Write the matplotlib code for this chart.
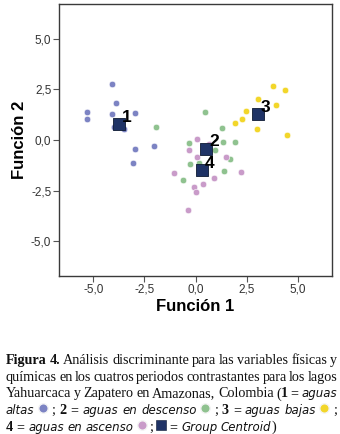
import matplotlib
matplotlib.use("Agg")
import matplotlib.pyplot as plt

# discriminant scores (Función 1, Función 2)
altas_x = [-4.09, -3.88, -5.29, -5.29, -4.09, -2.97, -3.98, -3.48, -2.97, -3.04, -2.04]
altas_y = [2.74, 1.83, 1.36, 1.02, 1.26, 1.31, 0.65, 0.54, -0.46, -1.12, -0.31]

descenso_x = [0.44, -1.93, 1.29, 1.34, 1.91, -0.33, 0.95, 1.68, -0.29, 0.16, 1.37, -0.64]
descenso_y = [1.36, 0.62, 0.57, -0.09, -0.11, -0.14, -0.48, -0.92, -1.19, -1.14, -1.52, -1.99]

bajas_x = [3.77, 4.36, 3.03, 3.92, 2.43, 2.24, 1.91, 2.99, 4.47]
bajas_y = [2.65, 2.47, 2.03, 1.73, 1.41, 1.05, 0.82, 0.54, 0.25]

ascenso_x = [0.04, -0.32, 0.63, 0.04, 1.46, 2.21, -1.07, 0.88, 0.35, -0.10, 0.01, -0.38]
ascenso_y = [0.04, -0.48, -0.20, -0.85, -0.82, -1.57, -1.62, -1.89, -2.15, -2.33, -2.55, -3.47]

centroid_x = [-3.72, 0.51, 3.05, 0.31]
centroid_y = [0.79, -0.42, 1.30, -1.50]
centroid_labels = ["1", "2", "3", "4"]

xticks = [-5.0, -2.5, 0.0, 2.5, 5.0]
yticks = [-5.0, -2.5, 0.0, 2.5, 5.0]

COLORS = {
    "altas": "#7c83c3",
    "descenso": "#8fc28f",
    "bajas": "#f2d62a",
    "ascenso": "#c99bc9",
    "centroid": "#1f3366",
}


def fmt(v):
    return f"{v:.1f}".replace(".", ",")


fig = plt.figure(figsize=(3.4, 4.34), dpi=100)
ax = fig.add_axes([59 / 340, 1 - 276 / 434, 273 / 340, 272 / 434])

groups = [
    (altas_x, altas_y, COLORS["altas"]),
    (descenso_x, descenso_y, COLORS["descenso"]),
    (bajas_x, bajas_y, COLORS["bajas"]),
    (ascenso_x, ascenso_y, COLORS["ascenso"]),
]
for gx, gy, col in groups:
    ax.scatter(gx, gy, s=22, color=col, edgecolors="white", linewidths=0.4, zorder=2)

ax.scatter(centroid_x, centroid_y, s=66, marker="s", color=COLORS["centroid"],
           edgecolors="#0d1a33", linewidths=0.6, zorder=3)
for cx, cy, lab in zip(centroid_x, centroid_y, centroid_labels):
    ax.annotate(lab, (cx, cy), xytext=(2, 1.5), textcoords="offset points",
                ha="left", va="baseline", fontsize=12.5, fontweight="bold",
                family="Liberation Sans", color="black", zorder=4)

ax.set_xlim(-6.67, 6.65)
ax.set_ylim(-6.7, 6.7)
ax.set_xticks(xticks)
ax.set_yticks(yticks)
ax.set_xticklabels([fmt(v) for v in xticks])
ax.set_yticklabels([fmt(v) for v in yticks])
ax.tick_params(direction="out", length=4, width=0.8, color="#555555",
               labelsize=8.5, labelcolor="#333333", pad=1.5)
for lab in ax.get_xticklabels() + ax.get_yticklabels():
    lab.set_family("Liberation Sans")
for sp in ax.spines.values():
    sp.set_color("#3a3a3a")
    sp.set_linewidth(1.0)

ax.set_xlabel("Función 1", fontsize=12, fontweight="bold", family="Liberation Sans", labelpad=2.5)
ax.set_ylabel("Función 2", fontsize=12, fontweight="bold", family="Liberation Sans", labelpad=3)

# caption, laid out word by word in pixel coordinates and justified
cap = fig.add_axes([0, 0, 1, 1], zorder=-1)
cap.set_xlim(0, 340)
cap.set_ylim(434, 0)
cap.axis("off")

STYLES = {
    "r": dict(family="Liberation Serif", fontsize=10.15),
    "b": dict(family="Liberation Serif", fontsize=10.15, fontweight="bold"),
    "i": dict(family="DejaVu Sans", fontsize=8.5, style="italic"),
}

caption_lines = [
    [[("Figura", "b")], [("4.", "b")], [("Análisis", "r")], [("discriminante", "r")],
     [("para", "r")], [("las", "r")], [("variables", "r")], [("físicas", "r")], [("y", "r")]],
    [[(w, "r")] for w in "químicas en los cuatros periodos contrastantes para los lagos".split()],
    [[("Yahuarcaca", "r")], [("y", "r")], [("Zapatero", "r")], [("en", "r")],
     [("Amazonas,", "r")], [("Colombia", "r")], [("(", "r"), ("1", "b")], [("=", "r")],
     [("aguas", "i")]],
    [[("altas", "i")], [("dot", COLORS["altas"])], [(";", "r")], [("2", "b")], [("=", "r")],
     [("aguas", "i")], [("en", "i")], [("descenso", "i")], [("dot", COLORS["descenso"])],
     [(";", "r")], [("3", "b")], [("=", "r")], [("aguas", "i")], [("bajas", "i")],
     [("dot", COLORS["bajas"])], [(";", "r")]],
    [[("4", "b")], [("=", "r")], [("aguas", "i")], [("en", "i")], [("ascenso", "i")],
     [("dot", COLORS["ascenso"])], [(";", "r")], [("sq", COLORS["centroid"])], [("=", "r")],
     [("Group", "i")], [("Centroid", "i"), (")", "r")]],
]
baselines = [364, 380.7, 397.4, 414.1, 430.8]
x_left, x_right = 6, 337

renderer = fig.canvas.get_renderer()


def seg_width(text, style):
    if text in ("dot", "sq"):
        return 9.0
    t = cap.text(0, 0, text, **STYLES[style])
    w = t.get_window_extent(renderer).width
    t.remove()
    return w


space_w = seg_width("a b", "r") - seg_width("ab", "r")

for i, (line, base) in enumerate(zip(caption_lines, baselines)):
    widths = [[seg_width(t, s) for t, s in word] for word in line]
    total = sum(sum(w) for w in widths)
    last = i == len(caption_lines) - 1
    gap = space_w if last else (x_right - x_left - total) / (len(line) - 1)
    x = x_left
    for word, ws in zip(line, widths):
        for (t, s), w in zip(word, ws):
            if t == "dot":
                cap.scatter([x + w / 2], [base - 6], s=46, color=s,
                            edgecolors="#f4f4f4", linewidths=1.0)
            elif t == "sq":
                cap.scatter([x + w / 2 - 1], [base - 6], s=50, marker="s", color=s,
                            edgecolors="#0d1a33", linewidths=0.4)
            else:
                cap.text(x, base, t, ha="left", va="baseline", color="#111111", **STYLES[s])
            x += w
        x += gap

fig.savefig("out.png", dpi=100)
